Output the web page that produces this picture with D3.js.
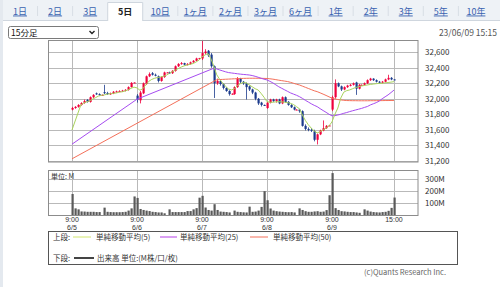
<!DOCTYPE html>
<html>
<head>
<meta charset="utf-8">
<script src="https://cdn.jsdelivr.net/npm/d3@7"></script>
<style>
  body { margin: 0; background: #fff; }
  svg { display: block; font-family: 'Noto Sans CJK JP', 'Noto Sans', sans-serif; }
</style>
</head>
<body>
<svg id="chart" width="500" height="287"></svg>
<script>
// tabs and labels
var tabs = ['1日', '2日', '3日', '5日', '10日', '1ヶ月', '2ヶ月', '3ヶ月', '6ヶ月', '1年', '2年', '3年', '5年', '10年']
var dates = ['6/5', '6/6', '6/7', '6/8', '6/9']
var priceTicks = [31200, 31400, 31600, 31800, 32000, 32200, 32400, 32600]
var volTicks = [100, 200, 300]
var barsPerDay = 22

// 15-minute bars, 22 per day (9:00 ... 11:30, 12:30 ... 15:00)
var opens = [
  31860, 31880, 31895, 31920, 31945, 31985, 31960, 32020, 32070, 32060, 32050, 32085, 32075, 32060, 32070, 32090, 32095, 32100, 32105, 32115, 32150, 32205,
  32040, 31980, 32070, 32190, 32290, 32330, 32310, 32290, 32230, 32280, 32340, 32340, 32330, 32360, 32420, 32450, 32460, 32440, 32450, 32470, 32490, 32520,
  32520, 32590, 32620, 32570, 32420, 32200, 32230, 32190, 32140, 32100, 32060, 32060, 32150, 32260, 32220, 32200, 32160, 32120, 32080, 32000, 31950, 31920,
  31880, 31950, 31990, 31970, 31990, 31940, 32020, 31960, 31920, 31890, 31860, 31860, 31840, 31650, 31610, 31600, 31580, 31470, 31540, 31590, 31620, 31650,
  31860, 32020, 32200, 32160, 32120, 32150, 32170, 32180, 32210, 32130, 32180, 32180, 32200, 32240, 32260, 32240, 32220, 32210, 32220, 32250, 32270, 32250
]
var highs = [
  31895, 31905, 31930, 31955, 31990, 31995, 32030, 32060, 32080, 32070, 32055, 32180, 32090, 32080, 32100, 32105, 32110, 32115, 32125, 32160, 32215, 32212,
  32060, 32100, 32210, 32300, 32340, 32345, 32325, 32300, 32290, 32350, 32345, 32350, 32370, 32430, 32460, 32475, 32465, 32460, 32480, 32500, 32530, 32528,
  32760, 32640, 32630, 32590, 32430, 32260, 32240, 32200, 32150, 32110, 32070, 32160, 32280, 32270, 32230, 32210, 32170, 32130, 32090, 32010, 31960, 31925,
  31960, 32000, 32000, 32000, 32000, 32030, 32030, 31970, 31930, 31900, 31865, 31870, 31850, 31670, 31630, 31620, 31600, 31550, 31600, 31720, 31660, 31660,
  32040, 32250, 32210, 32170, 32160, 32180, 32190, 32210, 32220, 32190, 32185, 32210, 32250, 32270, 32265, 32250, 32230, 32230, 32260, 32310, 32280, 32250
]
var lows = [
  31850, 31870, 31885, 31910, 31935, 31950, 31950, 32010, 32050, 32040, 32045, 32060, 32050, 32050, 32060, 32080, 32085, 32090, 32095, 32105, 32145, 32205,
  31950, 31940, 32060, 32180, 32280, 32300, 32290, 32210, 32220, 32270, 32335, 32320, 32320, 32350, 32410, 32440, 32430, 32430, 32440, 32465, 32485, 32518,
  32500, 32570, 32540, 32400, 32010, 32180, 32170, 32120, 32090, 32040, 32055, 32050, 32140, 32200, 32180, 31990, 32100, 32060, 31980, 31920, 31900, 31910,
  31870, 31940, 31960, 31950, 31930, 31930, 31950, 31910, 31880, 31850, 31855, 31820, 31640, 31590, 31580, 31570, 31450, 31410, 31530, 31580, 31610, 31648,
  31840, 32000, 32150, 32100, 32110, 32140, 32160, 32170, 32050, 32120, 32175, 32170, 32190, 32230, 32230, 32210, 32200, 32200, 32210, 32240, 32240, 32240
]
var closes = [
  31881, 31895, 31920, 31945, 31970, 31960, 32020, 32050, 32060, 32050, 32050, 32075, 32060, 32070, 32090, 32095, 32100, 32105, 32115, 32150, 32205, 32210,
  31990, 32080, 32200, 32290, 32320, 32310, 32300, 32230, 32280, 32340, 32340, 32330, 32360, 32420, 32450, 32460, 32440, 32450, 32470, 32490, 32520, 32525,
  32590, 32610, 32560, 32420, 32200, 32230, 32190, 32140, 32100, 32060, 32065, 32150, 32260, 32220, 32200, 32150, 32120, 32080, 32000, 31940, 31920, 31915,
  31950, 31990, 31970, 31990, 31940, 32020, 31960, 31920, 31890, 31860, 31860, 31840, 31650, 31610, 31600, 31590, 31470, 31540, 31590, 31620, 31650, 31655,
  32020, 32200, 32160, 32120, 32150, 32170, 32180, 32200, 32130, 32180, 32180, 32200, 32240, 32260, 32240, 32220, 32210, 32220, 32250, 32270, 32250, 32245
]
// volume, millions
var volumes = [
  175, 58, 50, 33, 32, 30, 30, 30, 28, 28, 3, 64, 30, 28, 27, 27, 27, 28, 30, 40, 58, 155,
  143, 53, 45, 40, 36, 30, 28, 25, 25, 18, 3, 50, 28, 28, 28, 28, 28, 36, 36, 50, 60, 145,
  160, 65, 45, 40, 92, 45, 32, 30, 28, 25, 3, 40, 30, 28, 26, 25, 72, 30, 32, 40, 70, 198,
  124, 57, 40, 35, 32, 30, 28, 27, 28, 25, 3, 58, 45, 35, 30, 30, 33, 35, 30, 32, 44, 165,
  345, 60, 45, 35, 33, 30, 28, 28, 25, 22, 3, 50, 40, 32, 28, 26, 25, 28, 30, 38, 62, 146
]
var ma5 = [
  31597, null, null, 31920, 31945, 31960, 31975, 31995, 32015, 32035, 32045, 32050, 32060, 32065, 32070, 32075, 32085, 32090, 32100, 32115, 32135, 32150,
  32140, 32110, 32130, 32180, 32225, 32250, 32265, 32275, 32281, 32290, 32305, 32330, 32350, 32370, 32390, 32410, 32425, 32435, 32445, 32455, 32475, 32500,
  32540, 32565, 32585, 32520, 32420, 32310, 32250, 32204, 32160, 32125, 32114, 32130, 32170, 32195, 32210, 32205, 32180, 32155, 32130, 32114, 32070, 32020,
  31963, 31955, 31955, 31960, 31962, 31960, 31955, 31950, 31940, 31925, 31898, 31870, 31790, 31720, 31665, 31620, 31585, 31559, 31575, 31597, 31620, 31649,
  31700, 31800, 31880, 32010, 32085, 32105, 32114, 32130, 32145, 32155, 32165, 32172, 32178, 32185, 32190, 32195, 32198, 32200, 32205, 32210, 32215, 32221
]
var ma25 = [
  31413, null, null, null, null, null, null, null, null, null, null, null, null, null, null, null, null, null, null, null, null, null,
  31994, null, null, null, null, null, null, null, null, null, null, null, null, null, null, null, null, null, null, null, null, null,
  null, null, null, null, 32394, 32385, 32372, 32360, 32348, 32338, 32333, 32328, 32323, 32318, 32314, 32311, 32307, 32300, 32290, 32278, 32265, 32253,
  32243, 32225, 32205, 32180, 32155, 32135, 32115, 32095, 32075, 32060, 32045, 32027, 32005, 31980, 31958, 31935, 31915, 31898, 31872, 31848, 31825, 31800,
  31780, 31782, 31790, 31800, 31812, 31822, 31834, 31845, 31855, 31865, 31875, 31888, 31900, 31920, 31935, 31950, 31970, 32000, 32025, 32050, 32080, 32112
]
var ma50 = [
  31224, null, null, null, null, null, null, null, null, null, null, null, null, null, null, null, null, null, null, null, null, null,
  null, null, null, null, null, null, null, null, null, null, null, null, null, null, null, null, null, null, null, null, null, null,
  null, null, null, null, 32225, 32245, 32248, 32250, 32252, 32254, 32256, 32258, 32260, 32262, 32263, 32264, 32265, 32265, 32265, 32265, 32264, 32263,
  32262, 32258, 32253, 32247, 32240, 32234, 32228, 32222, 32212, 32200, 32188, 32178, 32163, 32148, 32133, 32118, 32103, 32092, 32076, 32060, 32043, 32025,
  32008, 31998, 31990, 31985, 31980, 31977, 31976, 31975, 31975, 31974, 31974, 31974, 31974, 31975, 31975, 31975, 31976, 31976, 31977, 31977, 31978, 31978
]

var upColor = '#f0003c'
var downColor = '#1b3a8c'
var gridColor = '#b9b9b9'
var frameColor = '#8c8c8c'

var svg = d3.select('#chart')

// left page edge
svg.append('rect').attr('x', 0).attr('y', 0).attr('width', 3).attr('height', 287).attr('fill', '#e4e9ef')

// tab bar
var tabW = 35.07
svg.append('rect').attr('x', 3).attr('y', 0).attr('width', 497).attr('height', 20.5).attr('fill', '#eef2f6')
svg.append('line').attr('x1', 3).attr('x2', 500).attr('y1', 20.5).attr('y2', 20.5).attr('stroke', '#cfd6de')
tabs.forEach(function (t, i) {
  var cx = 20 + i * tabW
  if (t === '5日') {
    svg.append('path')
      .attr('d', 'M' + (cx - 17.5) + ',21 V2.5 H' + (cx + 17.5) + ' V21')
      .attr('fill', '#fff').attr('stroke', '#cfd6de')
    svg.append('text').attr('x', cx).attr('y', 14.5).attr('text-anchor', 'middle')
      .attr('font-size', 9).attr('font-weight', 'bold').attr('fill', '#222').text(t)
  } else {
    svg.append('text').attr('x', cx).attr('y', 14.5).attr('text-anchor', 'middle')
      .attr('font-size', 9).attr('fill', '#3a62b0').attr('text-decoration', 'underline').text(t)
    if (i > 0 && tabs[i - 1] !== '5日') {
      svg.append('line').attr('x1', cx - tabW / 2).attr('x2', cx - tabW / 2).attr('y1', 6).attr('y2', 16)
        .attr('stroke', '#d8dee5')
    }
  }
})

// period select
svg.append('rect').attr('x', 8.5).attr('y', 26.5).attr('width', 90).attr('height', 12).attr('rx', 2)
  .attr('fill', '#fff').attr('stroke', '#7a7a7a')
svg.append('text').attr('x', 11).attr('y', 36).attr('font-size', 8.5).attr('fill', '#111').text('15分足')
svg.append('path').attr('d', 'M89.5,31 L92,33.5 L94.5,31').attr('fill', 'none').attr('stroke', '#222').attr('stroke-width', 1.4)

svg.append('text').attr('x', 497).attr('y', 36).attr('text-anchor', 'end').attr('font-size', 8.5)
  .attr('fill', '#555').text('23/06/09 15:15')

// scales
var n = closes.length
var x = d3.scaleLinear().domain([-8.12, 117.13]).range([48, 418])
var y = d3.scaleLinear().domain([31183, 32759]).range([162, 40])
var yv = d3.scaleLinear().domain([0, 366]).range([215.5, 170.5])

var dayIdx = dates.map(function (d, i) { return i * barsPerDay })
var vLines = dayIdx.concat([n - 1])

// price panel
var main = svg.append('g')
main.append('g')
  .call(d3.axisRight(y).tickValues(priceTicks).tickSize(0).tickFormat(d3.format(',')))
  .call(function (g) { g.select('.domain').remove() })
  .call(function (g) {
    g.selectAll('text').attr('x', 425).attr('font-size', 8).attr('fill', '#333')
      .attr('font-family', "'Noto Sans CJK JP', sans-serif")
  })
main.selectAll('line.hgrid').data(priceTicks).enter().append('line')
  .attr('x1', 48).attr('x2', 418)
  .attr('y1', function (d) { return Math.round(y(d)) + 0.5 })
  .attr('y2', function (d) { return Math.round(y(d)) + 0.5 })
  .attr('stroke', gridColor)
main.selectAll('line.vgrid').data(vLines).enter().append('line')
  .attr('x1', function (d) { return Math.round(x(d)) + 0.5 })
  .attr('x2', function (d) { return Math.round(x(d)) + 0.5 })
  .attr('y1', 40).attr('y2', 162)
  .attr('stroke', gridColor)

// candles
var idx = d3.range(n)
main.selectAll('line.wick').data(idx).enter().append('line')
  .attr('x1', function (i) { return Math.round(x(i)) + 0.5 })
  .attr('x2', function (i) { return Math.round(x(i)) + 0.5 })
  .attr('y1', function (i) { return y(highs[i]) })
  .attr('y2', function (i) { return y(lows[i]) })
  .attr('stroke', function (i) { return closes[i] >= opens[i] ? upColor : downColor })
  .attr('stroke-width', 0.8)
main.selectAll('rect.body').data(idx).enter().append('rect')
  .attr('x', function (i) { return Math.round(x(i)) - 0.5 })
  .attr('width', 2.2)
  .attr('y', function (i) { return y(Math.max(opens[i], closes[i])) })
  .attr('height', function (i) { return Math.max(1, Math.abs(y(opens[i]) - y(closes[i]))) })
  .attr('fill', function (i) { return closes[i] >= opens[i] ? upColor : downColor })

// moving averages
var maLine = d3.line()
  .x(function (d) { return x(d.i) })
  .y(function (d) { return y(d.v) })
function maPoints (arr) {
  return arr.map(function (v, i) { return {i: i, v: v} }).filter(function (d) { return d.v !== null })
}
var maSeries = [
  {data: ma50, color: '#f4705a'},
  {data: ma25, color: '#a64cf0'},
  {data: ma5, color: '#a9d35c'}
]
maSeries.forEach(function (s) {
  main.append('path')
    .datum(maPoints(s.data))
    .attr('d', maLine)
    .attr('fill', 'none')
    .attr('stroke', s.color)
    .attr('stroke-width', 1)
})

main.append('rect').attr('x', 48.5).attr('y', 40.5).attr('width', 369.5).attr('height', 121.5)
  .attr('fill', 'none').attr('stroke', frameColor)

// volume panel
var vol = svg.append('g')
vol.selectAll('line.hgrid').data(volTicks).enter().append('line')
  .attr('x1', 48).attr('x2', 418)
  .attr('y1', function (d) { return Math.round(yv(d)) + 0.5 })
  .attr('y2', function (d) { return Math.round(yv(d)) + 0.5 })
  .attr('stroke', gridColor)
vol.selectAll('line.vgrid').data(vLines).enter().append('line')
  .attr('x1', function (d) { return Math.round(x(d)) + 0.5 })
  .attr('x2', function (d) { return Math.round(x(d)) + 0.5 })
  .attr('y1', 170.5).attr('y2', 215.5)
  .attr('stroke', gridColor)
vol.selectAll('rect.vbar').data(idx).enter().append('rect')
  .attr('x', function (i) { return Math.round(x(i)) - 0.5 })
  .attr('width', 2.2)
  .attr('y', function (i) { return yv(volumes[i]) })
  .attr('height', function (i) { return yv(0) - yv(volumes[i]) })
  .attr('fill', '#5a5a5a')
vol.append('g')
  .call(d3.axisRight(yv).tickValues(volTicks).tickSize(0).tickFormat(function (d) { return d + 'M' }))
  .call(function (g) { g.select('.domain').remove() })
  .call(function (g) {
    g.selectAll('text').attr('x', 425).attr('font-size', 8).attr('fill', '#333')
      .attr('font-family', "'Noto Sans CJK JP', sans-serif")
  })
vol.append('rect').attr('x', 48.5).attr('y', 170.5).attr('width', 369.5).attr('height', 45)
  .attr('fill', 'none').attr('stroke', frameColor)
vol.append('text').attr('x', 51).attr('y', 178.5).attr('font-size', 7).attr('fill', '#333').text('単位: M')

// time axis labels
var xl = svg.append('g').attr('font-size', 7).attr('fill', '#333').attr('text-anchor', 'middle')
  .attr('font-family', "'Liberation Sans', Arial, sans-serif")
dayIdx.forEach(function (d, i) {
  xl.append('text').attr('x', x(d)).attr('y', 222).text('9:00')
  xl.append('text').attr('x', x(d)).attr('y', 230).text(dates[i])
})
xl.append('text').attr('x', x(n - 1)).attr('y', 222).text('15:00')

// legend
var lg = svg.append('g').attr('font-size', 7.5).attr('fill', '#333')
lg.append('rect').attr('x', 48.5).attr('y', 231.5).attr('width', 409).attr('height', 33)
  .attr('fill', '#fff').attr('stroke', '#555')
lg.append('text').attr('x', 53).attr('y', 240).text('上段:')
var legendItems = [
  {x1: 73, x2: 91, tx: 96, color: '#d2e66e', label: '単純移動平均(5)'},
  {x1: 160, x2: 177, tx: 180, color: '#b640e8', label: '単純移動平均(25)'},
  {x1: 250, x2: 268, tx: 273, color: '#f4705a', label: '単純移動平均(50)'}
]
legendItems.forEach(function (d) {
  lg.append('line').attr('x1', d.x1).attr('x2', d.x2).attr('y1', 237).attr('y2', 237)
    .attr('stroke', d.color).attr('stroke-width', 1)
  lg.append('text').attr('x', d.tx).attr('y', 240).text(d.label)
})
lg.append('text').attr('x', 53).attr('y', 261).text('下段:')
lg.append('line').attr('x1', 74).attr('x2', 94).attr('y1', 258).attr('y2', 258)
  .attr('stroke', '#444').attr('stroke-width', 2)
lg.append('text').attr('x', 97).attr('y', 261).text('出来高 単位:(M株/口/枚)')

svg.append('text').attr('x', 446).attr('y', 275).attr('text-anchor', 'end')
  .attr('font-size', 7.5).attr('fill', '#666').text('(c)Quants Research Inc.')
</script>
</body>
</html>
